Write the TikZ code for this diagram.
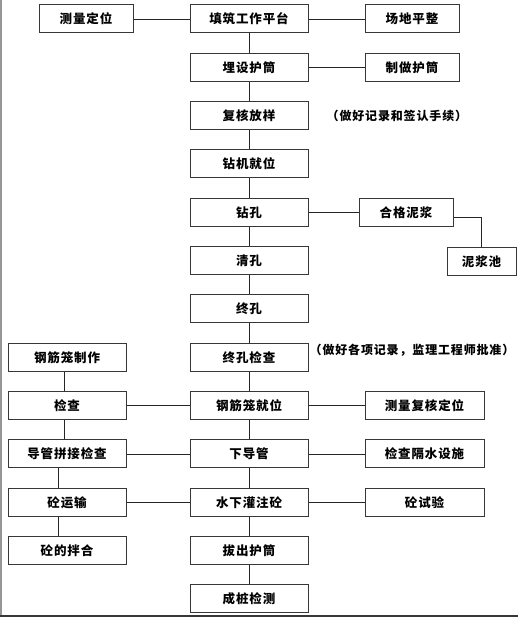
\documentclass[tikz,border=0pt]{standalone}
\usepackage{fontspec}
\setmainfont{Noto Sans CJK SC}
\newfontfamily\spacedcjk[LetterSpace=7]{Noto Sans CJK SC}
\usepackage{tikz}
\usetikzlibrary{positioning}
\definecolor{boxgray}{RGB}{55, 55, 55}
\definecolor{framegray}{RGB}{150, 150, 150}
\tikzset{
 stepbox/.style={
 rectangle,
 draw=boxgray,
 line width=1pt,
 fill=white,
 align=center,
 minimum width=118pt,
 minimum height=28pt,
 inner sep=0pt,
 font=\spacedcjk\fontsize{12.5}{14}\selectfont\bfseries
 },
 sidebox/.style={
 stepbox,
 minimum width=94pt
 },
 remark/.style={
 inner sep=0pt,
 font=\spacedcjk\fontsize{12}{14}\selectfont\bfseries
 },
 link/.style={line width=0.9pt, draw=black!85}
}

\begin{document}
\begin{tikzpicture}[x=1pt, y=-1pt, node distance=19.33pt and 56pt]
	\useasboundingbox (0,0) rectangle (518,617);

	\node[stepbox] (platform) at (249,19) {填筑工作平台};
	\node[sidebox, left=of platform] (survey) {测量定位};
	\node[sidebox, right=of platform] (level) {场地平整};
	\node[stepbox, below=of platform] (casing) {埋设护筒};
	\node[sidebox, right=of casing] (makecasing) {制做护筒};
	\node[stepbox, below=of casing] (stakeout) {复核放样};
	\node[remark, right=18pt of stakeout] (note1) {（做好记录和签认手续）};
	\node[stepbox, below=of stakeout] (rig) {钻机就位};
	\node[stepbox, below=of rig] (drill) {钻孔};
	\node[sidebox, right=50pt of drill] (mud) {合格泥浆};
	\node[sidebox, minimum width=69pt, below right=20pt and -7pt of mud] (pit) {泥浆池};
	\node[stepbox, below=of drill] (clean) {清孔};
	\node[stepbox, below=of clean] (hole) {终孔};
	\node[stepbox, below=of hole] (holecheck) {终孔检查};
	\node[remark, right=1pt of holecheck, yshift=7pt] (note2) {（做好各项记录，监理工程师批准）};

	\node[stepbox, below=of holecheck] (cage) {钢筋笼就位};
	\node[stepbox, below=of cage] (pipe) {下导管};
	\node[stepbox, below=of pipe] (pour) {水下灌注砼};
	\node[stepbox, below=of pour] (pull) {拔出护筒};
	\node[stepbox, below=of pull] (pile) {成桩检测};

	\node[stepbox, left=63pt of holecheck] (cagemake) {钢筋笼制作};
	\node[stepbox, below=of cagemake] (cagecheck) {检查};
	\node[stepbox, below=of cagecheck] (pipecheck) {导管拼接检查};
	\node[stepbox, below=of pipecheck] (transport) {砼运输};
	\node[stepbox, below=of transport] (mix) {砼的拌合};

	\node[stepbox, minimum width=119pt, right=of cage] (recheck) {测量复核定位};
	\node[stepbox, minimum width=119pt, right=of pipe] (sealcheck) {检查隔水设施};
	\node[stepbox, minimum width=119pt, right=of pour] (test) {砼试验};

	\draw[link] (survey) -- (platform);
	\draw[link] (platform) -- (level);
	\draw[link] (casing) -- (makecasing);
	\draw[link] (drill) -- (mud);
	\draw[link] (mud.east) ++(0,5) -| (pit.north);

	\draw[link] (platform) -- (casing);
	\draw[link] (casing) -- (stakeout);
	\draw[link] (stakeout) -- (rig);
	\draw[link] (rig) -- (drill);
	\draw[link] (drill) -- (clean);
	\draw[link] (clean) -- (hole);
	\draw[link] (hole) -- (holecheck);
	\draw[link] (holecheck) -- (cage);
	\draw[link] (cage) -- (pipe);
	\draw[link] (pipe) -- (pour);
	\draw[link] (pour) -- (pull);
	\draw[link] (pull) -- (pile);

	\draw[link] ([xshift=-3pt]cagemake.south) -- ([xshift=-3pt]cagecheck.north);
	\draw[link] ([xshift=-3pt]cagecheck.south) -- ([xshift=-3pt]pipecheck.north);
	\draw[link] ([xshift=-9pt]pipecheck.south) -- ([xshift=-9pt]transport.north);
	\draw[link] ([xshift=-9pt]transport.south) -- ([xshift=-9pt]mix.north);

	\draw[link] (cagecheck) -- (cage);
	\draw[link] (cage) -- (recheck);
	\draw[link] (pipecheck) -- (pipe);
	\draw[link] (pipe) -- (sealcheck);
	\draw[link] (transport) -- (pour);
	\draw[link] (pour) -- (test);

	\draw[framegray, line width=1.5pt] (1,0) -- (1,617);
	\draw[boxgray, line width=1.5pt] (0,616) -- (518,616);
\end{tikzpicture}
\end{document}
